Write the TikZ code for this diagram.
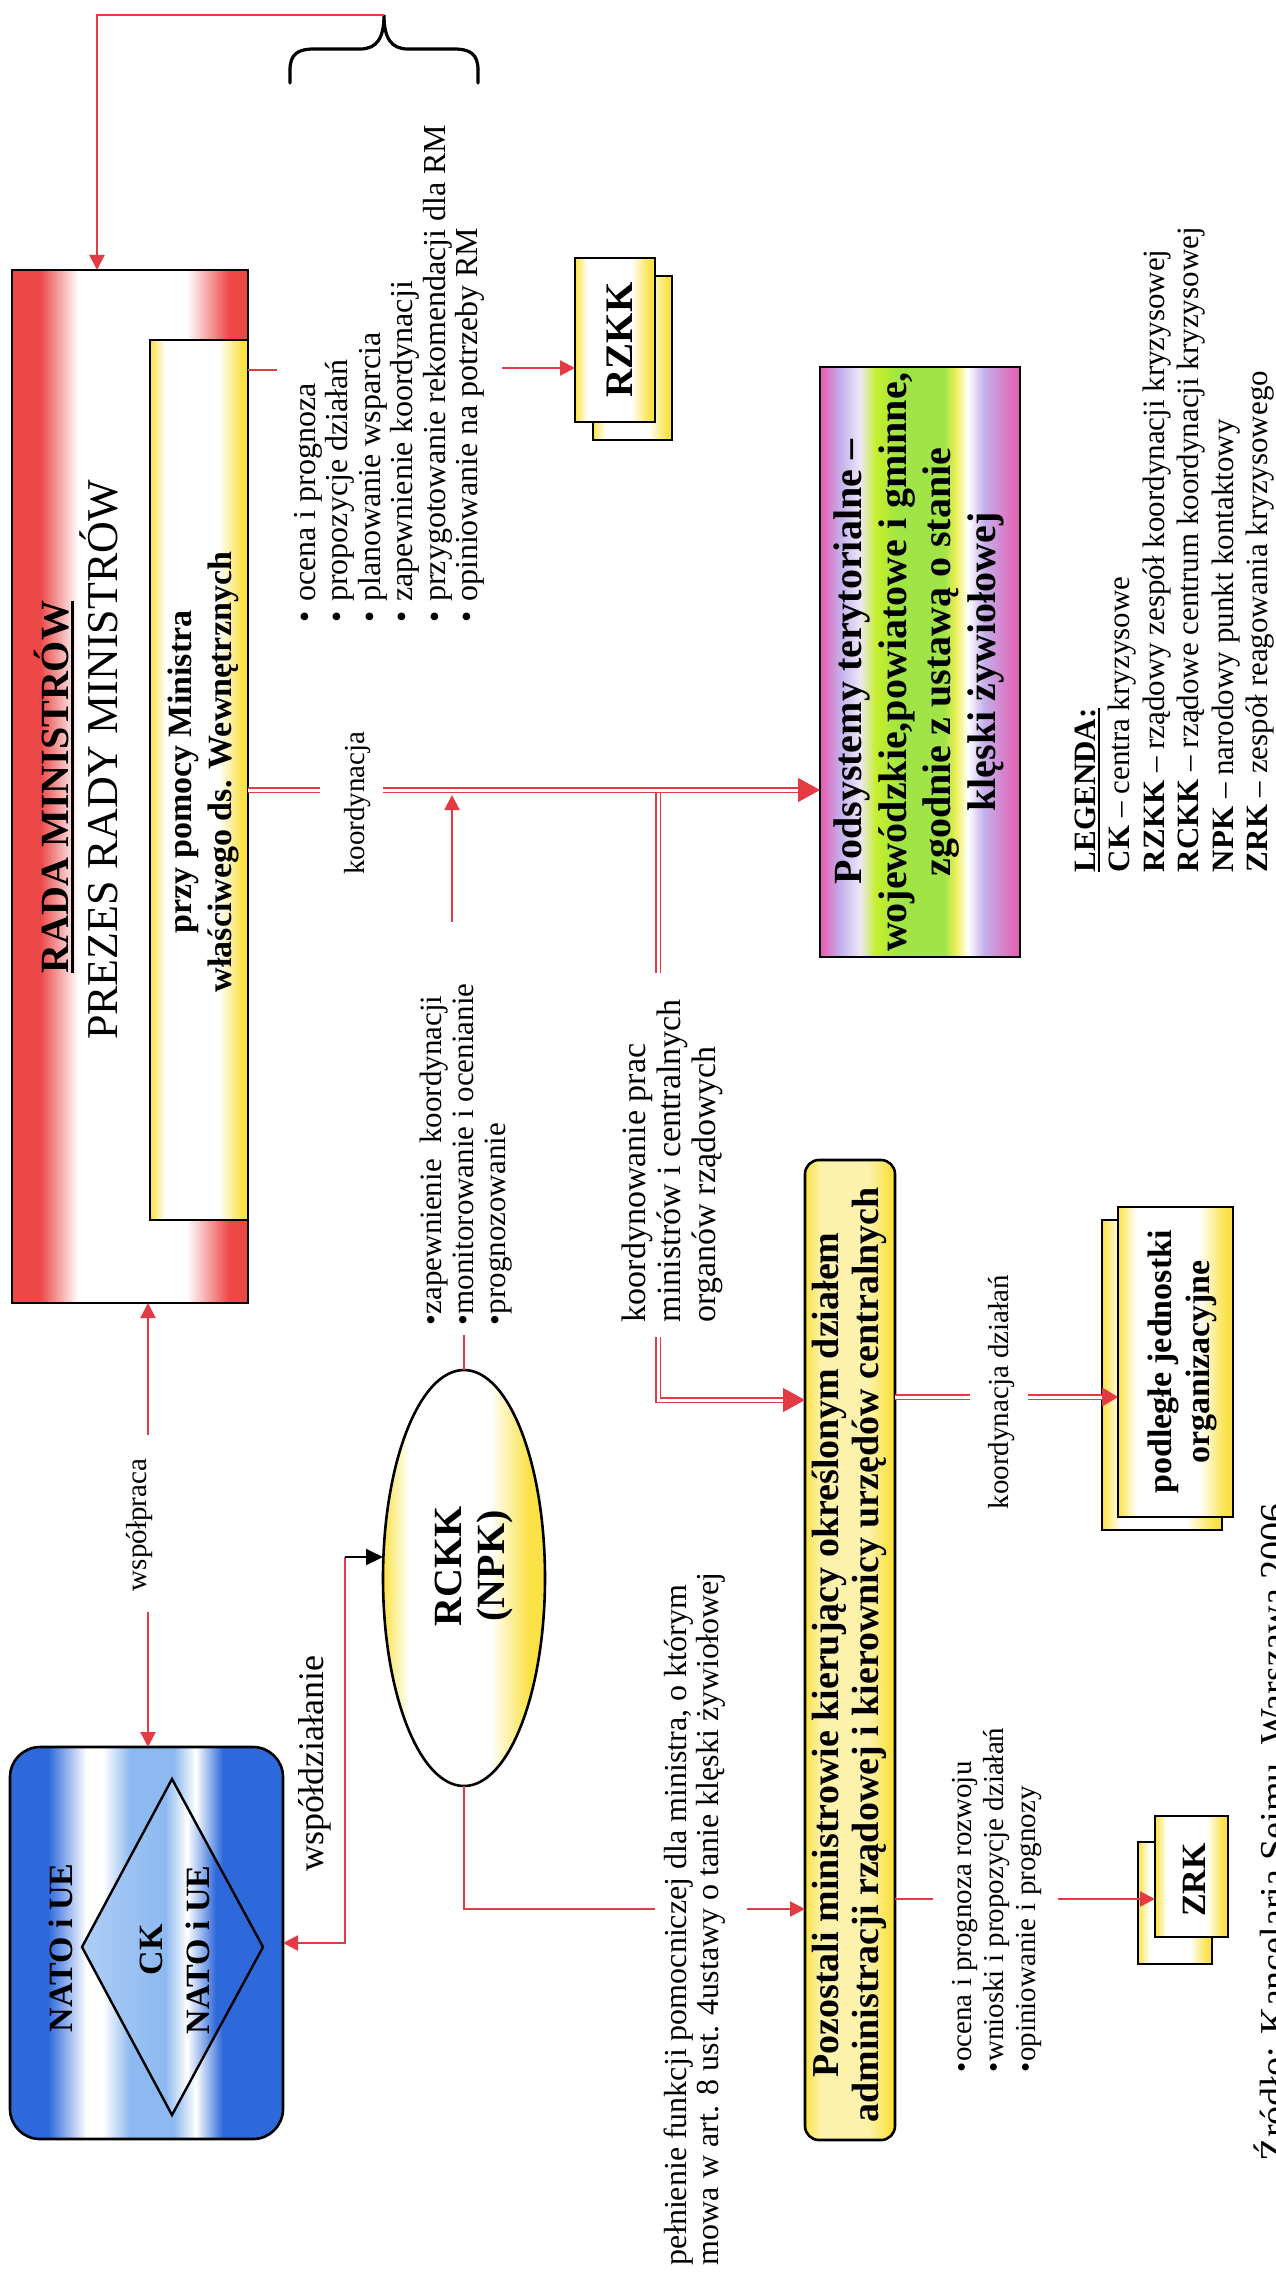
\documentclass[tikz,border=0pt]{standalone}
\usepackage{fontspec}
\setmainfont{Liberation Serif}
\usetikzlibrary{arrows.meta,shapes.geometric}

\definecolor{lnred}{RGB}{228,58,68}
\definecolor{boxred}{RGB}{236,72,72}
\definecolor{boxyel}{RGB}{250,226,70}
\definecolor{natoblue}{RGB}{45,105,218}
\definecolor{natolight}{RGB}{140,185,240}
\definecolor{podpink}{RGB}{232,90,175}
\definecolor{podlav}{RGB}{195,175,235}
\definecolor{podgreen}{RGB}{160,228,70}
\definecolor{podyel}{RGB}{238,240,90}

% colour bands across the boxes (25bp..75bp spans the box)
\pgfdeclarehorizontalshading{redband}{100bp}{color(0bp)=(boxred); color(25bp)=(boxred); color(31bp)=(boxred); color(39bp)=(white); color(62bp)=(white); color(71bp)=(boxred); color(100bp)=(boxred)}
\pgfdeclarehorizontalshading{yelband}{100bp}{color(0bp)=(boxyel); color(25bp)=(boxyel); color(33bp)=(white); color(60bp)=(white); color(72bp)=(boxyel); color(100bp)=(boxyel)}
\pgfdeclarehorizontalshading{ellband}{100bp}{color(0bp)=(boxyel); color(25bp)=(boxyel); color(33bp)=(white); color(58bp)=(white); color(70bp)=(boxyel); color(100bp)=(boxyel)}
\pgfdeclarehorizontalshading{pozband}{100bp}{color(0bp)=(boxyel); color(25bp)=(boxyel); color(34bp)=(boxyel!45!white); color(60bp)=(boxyel!45!white); color(72bp)=(boxyel); color(100bp)=(boxyel)}
\pgfdeclarehorizontalshading{natoband}{100bp}{color(0bp)=(natoblue); color(25bp)=(natoblue); color(32bp)=(natoblue); color(39bp)=(white); color(42bp)=(white); color(47bp)=(natolight); color(55bp)=(natolight); color(59bp)=(white); color(64bp)=(natoblue); color(100bp)=(natoblue)}
\pgfdeclarehorizontalshading{diaband}{100bp}{color(0bp)=(natolight); color(25bp)=(natolight!70!white); color(48bp)=(natolight); color(54bp)=(white); color(62bp)=(natoblue); color(100bp)=(natoblue)}
\pgfdeclarehorizontalshading{podband}{100bp}{color(0bp)=(podpink); color(25bp)=(podpink); color(30bp)=(podlav); color(35bp)=(podlav!30!white); color(39bp)=(podgreen!60!yellow); color(45bp)=(podgreen); color(56bp)=(podgreen); color(59bp)=(podyel); color(62bp)=(white); color(66bp)=(podlav); color(75bp)=(podpink); color(100bp)=(podpink)}

\newcommand\fsz[2]{\fontsize{#1}{#2}\selectfont}
\newcommand\myul[3]{\setbox0\hbox{#1}\rlap{\rule[-#2]{\wd0}{#3}}\box0}

\tikzset{
  every node/.style={inner sep=0pt, outer sep=0pt},
  frame/.style={draw=black, line width=2.6pt},
  txt/.style={rotate=90, inner sep=0pt},
  rl/.style={draw=lnred, line width=2.2pt},
  ra/.style={rl, -{Triangle[length=15pt,width=15pt]}},
  ba/.style={draw=black, line width=2pt, -{Triangle[length=17pt,width=16pt]}},
  dbl/.style={draw=lnred, double=white, double distance=3pt, line width=1.8pt},
  bigtip/.style={draw=lnred, fill=lnred, line width=1pt, -{Triangle[length=22pt,width=24pt]}},
  midtip/.style={draw=lnred, fill=lnred, line width=1pt, -{Triangle[length=16pt,width=19pt]}},
}

\begin{document}
\begin{tikzpicture}[x=1pt,y=1pt]
\useasboundingbox (0,0) rectangle (1275,-2274);
\fill[white] (0,0) rectangle (1275,-2274);

% ---------- boxes ----------
\node[frame, shade, shading=redband, minimum width=236pt, minimum height=1033pt] (rada) at (130,-786.5) {};
\node[frame, shade, shading=yelband, minimum width=98pt, minimum height=880pt] (inner) at (199,-780) {};

\node[frame, shade, shading=yelband, minimum width=79pt, minimum height=164pt] (rzkkb) at (632.5,-358) {};
\node[frame, shade, shading=yelband, minimum width=80pt, minimum height=164pt] (rzkk) at (615,-340) {};

\node[frame, shade, shading=podband, minimum width=200pt, minimum height=590pt] (pods) at (920,-662) {};

\node[frame, ellipse, shade, shading=ellband, minimum width=162pt, minimum height=416pt] (rckk) at (464,-1578) {};

\node[frame, rounded corners=30pt, shade, shading=natoband, minimum width=273pt, minimum height=392pt] (nato) at (146.5,-1943) {};
\path[draw=black, line width=2.4pt, shade, shading=diaband] (172,-1779) -- (263,-1947) -- (172,-2115) -- (82,-1947) -- cycle;

\node[frame, rounded corners=14pt, shade, shading=pozband, minimum width=90pt, minimum height=980pt] (pozo) at (850,-1650) {};

\node[frame, shade, shading=yelband, minimum width=120pt, minimum height=310pt] (podlb) at (1162,-1375) {};
\node[frame, shade, shading=yelband, minimum width=115pt, minimum height=310pt] (podl) at (1175.5,-1362) {};

\node[frame, shade, shading=yelband, minimum width=74pt, minimum height=122pt] (zrkb) at (1175,-1903) {};
\node[frame, shade, shading=yelband, minimum width=73pt, minimum height=121pt] (zrk) at (1191.5,-1876.5) {};

% ---------- texts ----------
\node[txt, anchor=base, font=\bfseries\fsz{40}{44}] (rmt) at (68,-787) {\myul{RADA MINISTRÓW}{6pt}{2.6pt}};
\node[txt, anchor=base, font=\fsz{44}{48}] (prmt) at (117,-760) {PREZES RADY MINISTRÓW};
\node[txt, anchor=north, align=center, font=\bfseries\fsz{34}{40}] (innt) at (168,-772) {przy pomocy Ministra\\właściwego ds. Wewnętrznych};

\node[txt, anchor=north west, align=left, font=\fsz{32}{32.5}] (bl1) at (294,-622) {\textbullet\hspace{9pt}ocena i prognoza\\\textbullet\hspace{9pt}propozycje działań\\\textbullet\hspace{9pt}planowanie wsparcia\\\textbullet\hspace{9pt}zapewnienie koordynacji\\\textbullet\hspace{9pt}przygotowanie rekomendacji dla RM\\\textbullet\hspace{9pt}opiniowanie na potrzeby RM};

\node[txt, anchor=base, font=\bfseries\fsz{39}{42}] (rzkkt) at (632,-340) {RZKK};

\node[txt, anchor=north, align=center, font=\bfseries\fsz{40}{44.5}] (podt) at (834,-662) {Podsystemy terytorialne –\\wojewódzkie,powiatowe i gminne,\\zgodnie z ustawą o stanie\\klęski żywiołowej};

\node[txt, anchor=base, font=\fsz{29}{32}] (klab) at (364,-803) {koordynacja};

\node[txt, anchor=north west, align=left, font=\fsz{31}{32}] (bl2) at (420,-1325) {\textbullet zapewnienie\ \ koordynacji\\\textbullet monitorowanie i ocenianie\\\textbullet prognozowanie};

\node[txt, anchor=north, align=center, font=\bfseries\fsz{40}{43}] (rckkt) at (435,-1566) {RCKK\\(NPK)};

\node[txt, anchor=north west, align=left, font=\fsz{34}{35}] (kplab) at (622,-1322) {koordynowanie prac\\ministrów i centralnych\\organów rządowych};

\node[txt, anchor=base, font=\bfseries\fsz{34}{38}] (natot) at (72,-1948) {NATO i UE};
\node[txt, anchor=north, align=center, font=\bfseries\fsz{34}{47}] (ckt) at (140,-1950) {CK\\NATO i UE};

\node[txt, anchor=base, font=\fsz{29}{32}] (wlab) at (146,-1525) {współpraca};
\node[txt, anchor=base west, font=\fsz{36}{40}] (wdlab) at (323,-1871) {współdziałanie};

\node[txt, anchor=north west, align=left, font=\fsz{32}{31.5}] (plab) at (664,-2265) {pełnienie funkcji pomocniczej dla ministra, o którym\\mowa w art. 8 ust. 4ustawy o tanie klęski żywiołowej};

\node[txt, anchor=north, align=center, font=\bfseries\fsz{38}{40}] (pozt) at (812,-1655) {Pozostali ministrowie kierujący określonym działem\\administracji rządowej i kierownicy urzędów centralnych};

\node[txt, anchor=north west, align=left, font=\fsz{29}{32}] (bl3) at (952,-2072) {\textbullet ocena i prognoza rozwoju\\\textbullet wnioski i propozycje działań\\\textbullet opiniowanie i prognozy};

\node[txt, anchor=base, font=\bfseries\fsz{34}{38}] (zrkt) at (1205,-1880) {ZRK};

\node[txt, anchor=base, font=\fsz{29}{32}] (kdlab) at (1008,-1392) {koordynacja działań};

\node[txt, anchor=north, align=center, font=\bfseries\fsz{34}{38}] (podlt) at (1148,-1362) {podległe jednostki\\organizacyjne};

\node[txt, anchor=north west, align=left, font=\fsz{31}{34.4}] (leg) at (1075,-872) {\myul{\textbf{LEGENDA:}}{4pt}{1.6pt}\\\textbf{CK} – centra kryzysowe\\\textbf{RZKK} – rządowy zespół koordynacji kryzysowej\\\textbf{RCKK} – rządowe centrum koordynacji kryzysowej\\\textbf{NPK} – narodowy punkt kontaktowy\\\textbf{ZRK} – zespół reagowania kryzysowego};

\node[txt, anchor=base west, font=\fsz{38}{42}] (src) at (1286,-2161) {Źródło: Kancelaria Sejmu, Warszawa 2006};

% ---------- bracket and feedback line ----------
\draw[line width=3.2pt, line cap=round] (290,-83) -- (290,-70) .. controls (290,-54) and (298,-49) .. (314,-49) -- (360,-49) .. controls (377,-49) and (384,-38) .. (384,-15) .. controls (384,-38) and (391,-49) .. (408,-49) -- (454,-49) .. controls (470,-49) and (478,-54) .. (478,-70) -- (478,-83);
\coordinate (bracetip) at (384,-15);
\draw[ra] (bracetip) -| ([xshift=-33pt]rada.north);

% ---------- connectors ----------
\draw[rl] ([yshift=-30pt]inner.north east) -- ++(29,0);
\coordinate (rzy) at (502,-368);
\draw[ra] (rzy) -- (rzy -| rzkk.west);

% koordynacja
\coordinate (kl) at (248,-790);
\draw[dbl] (kl) -- ++(72,0);
\coordinate (kr) at (383,-790);
\coordinate (kt) at (kr -| pods.west);
\draw[dbl, shorten >=20pt] (kr) -- (kt);
\draw[bigtip] ([xshift=-22pt]kt) -- (kt);

\coordinate (b2a) at (452,-922);
\draw[ra] (b2a) -- ++(0,127);

% koordynowanie prac
\coordinate (kj) at (658,-793);
\draw[dbl] (kj) -- ++(0,-180);
\coordinate (kk) at (658,-1337);
\coordinate (kc) at (658,-1400);
\coordinate (kp) at (kc -| pozo.west);
\draw[dbl, shorten >=20pt] (kk) -- (kc) -- (kp);
\draw[bigtip] ([xshift=-22pt]kp) -- (kp);

% RCKK links
\draw[rl] (rckk.north) -- ++(0,35);
\coordinate (pj) at (464,-1909);
\draw[rl] (rckk.south) -- (pj) -- ++(191,0);
\coordinate (pj2) at (747,-1909);
\draw[ra] (pj2) -- (pj2 -| pozo.west);

% wspolpraca
\coordinate (wpt) at (148,-1435);
\draw[ra] (wpt) -- (wpt |- rada.south);
\coordinate (wpb) at (148,-1612);
\draw[ra] (wpb) -- (wpb |- nato.north);

% wspoldzialanie
\coordinate (wd) at (345,-1557);
\draw[ra] (wd) |- (nato.east);
\draw[ba] (wd) -- (wd -| rckk.west);

% ZRK
\coordinate (zj) at (895,-1899);
\draw[rl] (zj) -- ++(38,0);
\coordinate (zj2) at (1058,-1899);
\draw[ra] (zj2) -- (zj2 -| zrk.west);

% koordynacja dzialan
\coordinate (kdj) at (895,-1397);
\draw[dbl] (kdj) -- ++(75,0);
\coordinate (kdj2) at (1028,-1397);
\coordinate (kdt) at (kdj2 -| podl.west);
\draw[dbl, shorten >=15pt] (kdj2) -- (kdt);
\draw[midtip] ([xshift=-16pt]kdt) -- (kdt);
\end{tikzpicture}
\end{document}
